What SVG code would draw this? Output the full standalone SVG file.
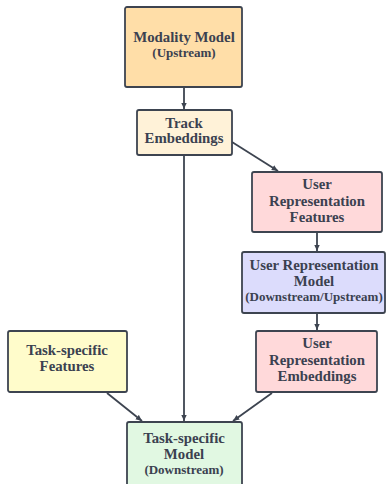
<svg xmlns="http://www.w3.org/2000/svg" width="389" height="484" viewBox="0 0 389 484">
<defs>
<style>
.box{stroke:#3d4450;stroke-width:1.8}
text{font-family:'Liberation Serif','DejaVu Serif',serif;font-weight:bold;font-size:14.8px;fill:#3b4150;text-anchor:middle}
text.s{font-size:13px}
.e{stroke:#3d4450;stroke-width:1.8;fill:none;marker-end:url(#ah)}
</style>
<marker id="ah" viewBox="0 0 10 10" refX="9" refY="5" markerWidth="7" markerHeight="7" markerUnits="userSpaceOnUse" orient="auto">
<path d="M0,1 L9,5 L0,9 Z" fill="#3d4450"/>
</marker>
</defs>
<rect width="389" height="484" fill="#fff"/>
<g id="edges">
<line class="e" x1="184" y1="88" x2="184" y2="109"/>
<line class="e" x1="232" y1="142" x2="278" y2="171"/>
<line class="e" x1="184" y1="156" x2="184" y2="421"/>
<line class="e" x1="317" y1="233" x2="317" y2="251"/>
<line class="e" x1="317" y1="314" x2="317" y2="330"/>
<line class="e" x1="107" y1="393" x2="142" y2="421"/>
<line class="e" x1="272" y1="393" x2="233" y2="421"/>
</g>
<g id="modality">
<rect class="box" x="125" y="7" width="117" height="80" rx="2" fill="#FFDEA8"/>
<text x="184" y="42">Modality Model</text>
<text class="s" x="184" y="57">(Upstream)</text>
</g>
<g id="track">
<rect class="box" x="137" y="110" width="95" height="45" rx="2" fill="#FFF2D8"/>
<text x="184" y="128">Track</text>
<text x="184" y="143">Embeddings</text>
</g>
<g id="urf">
<rect class="box" x="252" y="172" width="130" height="60" rx="2" fill="#FFD9DA"/>
<text x="317" y="189">User</text>
<text x="317" y="206">Representation</text>
<text x="317" y="222">Features</text>
</g>
<g id="urm">
<rect class="box" x="242" y="252" width="143" height="61" rx="2" fill="#DCDCFC"/>
<text x="314" y="270">User Representation</text>
<text x="314" y="286">Model</text>
<text class="s" x="314" y="301">(Downstream/Upstream)</text>
</g>
<g id="ure">
<rect class="box" x="256" y="331" width="121" height="61" rx="2" fill="#FFD9DA"/>
<text x="317" y="348">User</text>
<text x="317" y="365">Representation</text>
<text x="317" y="381">Embeddings</text>
</g>
<g id="tsf">
<rect class="box" x="8" y="331" width="119" height="61" rx="2" fill="#FFFCCB"/>
<text x="67" y="355">Task-specific</text>
<text x="67" y="371">Features</text>
</g>
<g id="tsm">
<rect class="box" x="127" y="422" width="115" height="70" rx="2" fill="#E1F8E2"/>
<text x="184" y="443">Task-specific</text>
<text x="184" y="459">Model</text>
<text class="s" x="184" y="474">(Downstream)</text>
</g>
</svg>
